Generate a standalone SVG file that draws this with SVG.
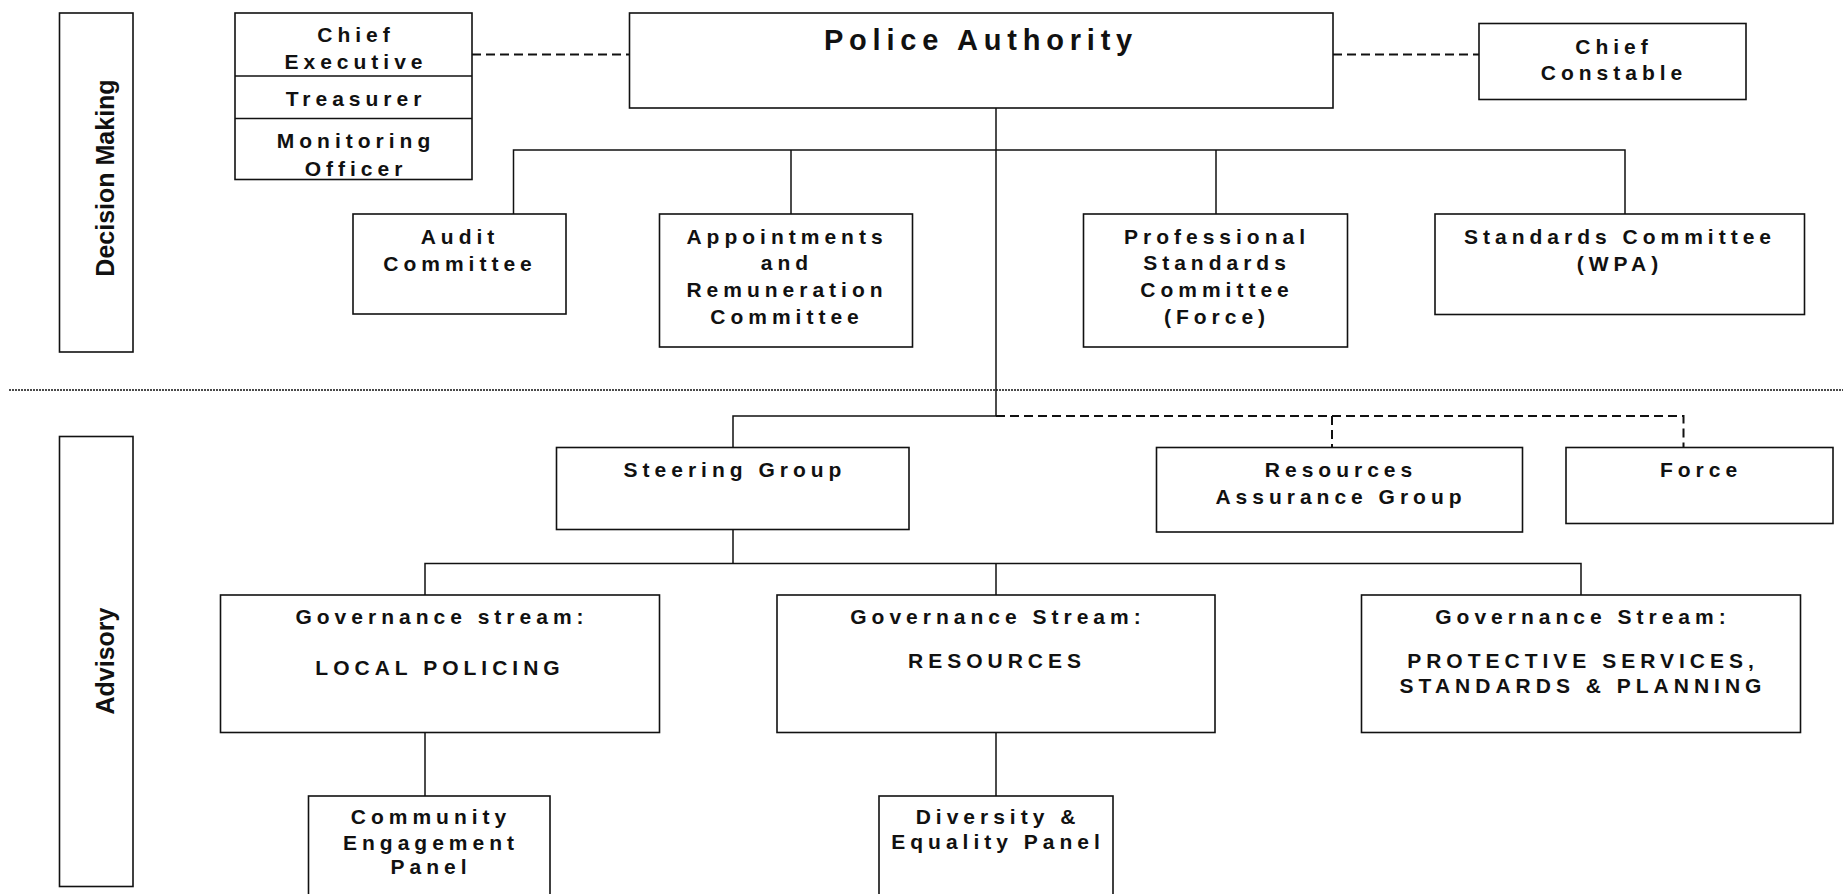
<svg xmlns="http://www.w3.org/2000/svg" width="1843" height="894" viewBox="0 0 1843 894">
<style>
.box{fill:#fff;stroke:#111;stroke-width:1.6}
.ln{fill:none;stroke:#111;stroke-width:1.5}
.dash{fill:none;stroke:#111;stroke-width:2;stroke-dasharray:9,5}
.dot{fill:none;stroke:#111;stroke-width:1.6;stroke-dasharray:2,1}
text{font-family:"Liberation Sans",Arial,sans-serif;font-weight:bold;font-size:21px;letter-spacing:5px;text-anchor:middle;fill:#111}
.side{font-size:25px;letter-spacing:0}
.big{font-size:29px;letter-spacing:5.8px}
</style>
<rect width="1843" height="894" fill="#fff"/>
<g id="connectors">
<line class="dot" x1="9" y1="390" x2="1843" y2="390"/>
<line class="dash" x1="472" y1="54.5" x2="629.5" y2="54.5"/>
<line class="dash" x1="1333" y1="54.5" x2="1479" y2="54.5"/>
<line class="ln" x1="996" y1="108" x2="996" y2="416"/>
<polyline class="ln" points="513.5,214 513.5,150 1625,150 1625,214"/>
<line class="ln" x1="791" y1="150" x2="791" y2="214"/>
<line class="ln" x1="1216" y1="150" x2="1216" y2="214"/>
<polyline class="ln" points="733,447.5 733,416 996,416"/>
<polyline class="dash" points="996,416 1683.5,416 1683.5,447.5"/>
<line class="dash" x1="1332" y1="416" x2="1332" y2="447.5"/>
<line class="ln" x1="733" y1="529.5" x2="733" y2="563.5"/>
<polyline class="ln" points="425,595 425,563.5 1581,563.5 1581,595"/>
<line class="ln" x1="996" y1="563.5" x2="996" y2="595"/>
<line class="ln" x1="425" y1="732.5" x2="425" y2="796"/>
<line class="ln" x1="996" y1="732.5" x2="996" y2="796"/>
</g>
<g id="decision-making">
<rect class="box" x="59.5" y="13" width="73.5" height="339"/>
<text class="side" transform="translate(114,178) rotate(-90)">Decision Making</text>
</g>
<g id="advisory">
<rect class="box" x="59.5" y="436.5" width="73.5" height="450"/>
<text class="side" transform="translate(114,661) rotate(-90)">Advisory</text>
</g>
<g id="officers">
<rect class="box" x="235" y="13" width="237" height="166.5"/>
<line class="ln" x1="235" y1="76" x2="472" y2="76"/>
<line class="ln" x1="235" y1="118.5" x2="472" y2="118.5"/>
<text x="356" y="42">Chief</text>
<text x="356" y="69">Executive</text>
<text x="356" y="105.5">Treasurer</text>
<text x="356" y="148">Monitoring</text>
<text x="356" y="175.5">Officer</text>
</g>
<g id="police-authority">
<rect class="box" x="629.5" y="13" width="703.5" height="95"/>
<text class="big" x="981" y="50">Police Authority</text>
</g>
<g id="chief-constable">
<rect class="box" x="1479" y="23.5" width="267" height="76"/>
<text x="1614" y="53.5">Chief</text>
<text x="1614" y="80">Constable</text>
</g>
<g id="audit">
<rect class="box" x="353" y="214" width="213" height="100"/>
<text x="460" y="244">Audit</text>
<text x="460" y="270.5">Committee</text>
</g>
<g id="appointments">
<rect class="box" x="659.5" y="214" width="253" height="133"/>
<text x="787" y="243.5">Appointments</text>
<text x="787" y="270">and</text>
<text x="787" y="297">Remuneration</text>
<text x="787" y="323.5">Committee</text>
</g>
<g id="professional">
<rect class="box" x="1083.5" y="214" width="264" height="133"/>
<text x="1217" y="243.5">Professional</text>
<text x="1217" y="270">Standards</text>
<text x="1217" y="297">Committee</text>
<text x="1217" y="323.5">(Force)</text>
</g>
<g id="standards-wpa">
<rect class="box" x="1435" y="214" width="369.5" height="100.5"/>
<text x="1620" y="243.5">Standards Committee</text>
<text x="1620" y="270.5">(WPA)</text>
</g>
<g id="steering">
<rect class="box" x="556.5" y="447.5" width="352.5" height="82"/>
<text x="735" y="476.5">Steering Group</text>
</g>
<g id="resources-assurance">
<rect class="box" x="1156.5" y="447.5" width="366" height="84.5"/>
<text x="1341" y="476.5">Resources</text>
<text x="1341" y="503.5">Assurance Group</text>
</g>
<g id="force">
<rect class="box" x="1566" y="447.5" width="267" height="76"/>
<text x="1701" y="476.5">Force</text>
</g>
<g id="gs-local">
<rect class="box" x="220.5" y="595" width="439" height="137.5"/>
<text x="442" y="624">Governance stream:</text>
<text x="440" y="675">LOCAL POLICING</text>
</g>
<g id="gs-resources">
<rect class="box" x="777" y="595" width="438" height="137.5"/>
<text x="998" y="624">Governance Stream:</text>
<text x="997" y="668">RESOURCES</text>
</g>
<g id="gs-protective">
<rect class="box" x="1361.5" y="595" width="439" height="137.5"/>
<text x="1583" y="624">Governance Stream:</text>
<text x="1583" y="668">PROTECTIVE SERVICES,</text>
<text x="1583" y="693">STANDARDS &amp; PLANNING</text>
</g>
<g id="community">
<rect class="box" x="308.5" y="796" width="241.5" height="110"/>
<text x="431" y="824">Community</text>
<text x="431" y="849.5">Engagement</text>
<text x="431" y="874">Panel</text>
</g>
<g id="diversity">
<rect class="box" x="879" y="796" width="234" height="110"/>
<text x="998" y="824">Diversity &amp;</text>
<text x="998" y="848.5">Equality Panel</text>
</g>
</svg>
